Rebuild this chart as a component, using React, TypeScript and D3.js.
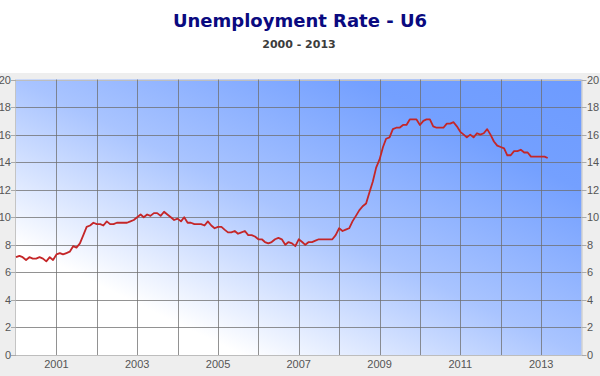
import React from "react";
import * as d3 from "d3";

const title = "Unemployment Rate - U6";
const subtitle = "2000 - 2013";

const startYear = 2000;
const u6_2000 = [7.1, 7.2, 7.1, 6.9, 7.1, 7.0, 7.0, 7.1, 7.0, 6.8, 7.1, 6.9];
const u6_2001 = [7.3, 7.4, 7.3, 7.4, 7.5, 7.9, 7.8, 8.1, 8.7, 9.3, 9.4, 9.6];
const u6_2002 = [9.5, 9.5, 9.4, 9.7, 9.5, 9.5, 9.6, 9.6, 9.6, 9.6, 9.7, 9.8];
const u6_2003 = [10.0, 10.2, 10.0, 10.2, 10.1, 10.3, 10.3, 10.1, 10.4, 10.2, 10.0, 9.8];
const u6_2004 = [9.9, 9.7, 10.0, 9.6, 9.6, 9.5, 9.5, 9.5, 9.4, 9.7, 9.4, 9.2];
const u6_2005 = [9.3, 9.3, 9.1, 8.9, 8.9, 9.0, 8.8, 8.9, 9.0, 8.7, 8.7, 8.6];
const u6_2006 = [8.4, 8.4, 8.2, 8.1, 8.2, 8.4, 8.5, 8.4, 8.0, 8.2, 8.1, 7.9];
const u6_2007 = [8.4, 8.2, 8.0, 8.2, 8.2, 8.3, 8.4, 8.4, 8.4, 8.4, 8.4, 8.7];
const u6_2008 = [9.2, 9.0, 9.1, 9.2, 9.7, 10.1, 10.5, 10.8, 11.0, 11.8, 12.6, 13.6];
const u6_2009 = [14.2, 15.1, 15.7, 15.8, 16.4, 16.5, 16.5, 16.7, 16.7, 17.1, 17.1, 17.1];
const u6_2010 = [16.7, 17.0, 17.1, 17.1, 16.6, 16.5, 16.5, 16.5, 16.8, 16.8, 16.9, 16.6];
const u6_2011 = [16.2, 16.0, 15.8, 16.0, 15.8, 16.1, 16.0, 16.1, 16.4, 16.0, 15.5, 15.2];
const u6_2012 = [15.1, 15.0, 14.5, 14.5, 14.8, 14.8, 14.9, 14.7, 14.7, 14.4, 14.4, 14.4];
const u6_2013 = [14.4, 14.4, 14.3];

const yearlySeries = [
  u6_2000, u6_2001, u6_2002, u6_2003, u6_2004, u6_2005, u6_2006,
  u6_2007, u6_2008, u6_2009, u6_2010, u6_2011, u6_2012, u6_2013,
];

const yTicks = [0, 2, 4, 6, 8, 10, 12, 14, 16, 18, 20];
const gridYears = [2001, 2002, 2003, 2004, 2005, 2006, 2007, 2008, 2009, 2010, 2011, 2012, 2013];
const labelYears = [2001, 2003, 2005, 2007, 2009, 2011, 2013];

type Pt = { date: Date; value: number };
const points: Pt[] = [];
yearlySeries.forEach((arr, yi) => {
  arr.forEach((v, m) => points.push({ date: new Date(startYear + yi, m, 1), value: v }));
});

export default function App() {
  const W = 600;
  const H = 376;
  const left = 16;
  const right = 581.5;
  const top = 79.5;
  const bottom = 355;

  const x = d3.scaleTime().domain([new Date(2000, 0, 1), new Date(2014, 0, 1)]).range([left, right]);
  const y = d3.scaleLinear().domain([0, 20]).range([bottom, top]);

  const line = d3
    .line<Pt>()
    .x((d) => x(d.date))
    .y((d) => y(d.value));

  const axisFont = "'Liberation Sans', Arial, sans-serif";
  const gridColor = "rgba(110,110,110,0.75)";

  return (
    <svg
      width={W}
      height={H}
      style={{ position: "absolute", left: 0, top: 0, display: "block" }}
    >
      <defs>
        <linearGradient id="bg" x1="0" y1="1" x2="1" y2="0">
          <stop offset="0" stopColor="#ffffff" />
          <stop offset="0.2" stopColor="#ffffff" />
          <stop offset="0.5" stopColor="#a9c4ff" />
          <stop offset="0.8" stopColor="#74a0ff" />
          <stop offset="1" stopColor="#6d9bff" />
        </linearGradient>
      </defs>
      <rect x={0} y={0} width={W} height={H} fill="#ffffff" />
      <rect x={0} y={73} width={W} height={H - 73} fill="#eeeeee" />

      <text
        x={300}
        y={27}
        textAnchor="middle"
        fontFamily="'DejaVu Sans', Verdana, sans-serif"
        fontWeight="bold"
        fontSize={18}
        fill="#0a0a80"
      >
        {title}
      </text>
      <text
        x={299}
        y={47.5}
        textAnchor="middle"
        fontFamily="'DejaVu Sans', Verdana, sans-serif"
        fontWeight="bold"
        fontSize={11}
        fill="#3c3c3c"
      >
        {subtitle}
      </text>

      <rect x={left} y={top} width={right - left} height={bottom - top} fill="url(#bg)" />

      {yTicks.map((t) => (
        <line
          key={"h" + t}
          x1={left}
          x2={right}
          y1={Math.round(y(t)) + 0.5}
          y2={Math.round(y(t)) + 0.5}
          stroke={t === 0 || t === 20 ? "#bdbdbd" : gridColor}
          strokeWidth={1}
        />
      ))}
      {gridYears.map((yr) => {
        const xx = Math.round(x(new Date(yr, 0, 1))) + 0.5;
        return (
          <line key={"v" + yr} x1={xx} x2={xx} y1={top} y2={bottom} stroke={gridColor} strokeWidth={1} />
        );
      })}
      <line x1={left - 0.5} x2={left - 0.5} y1={top} y2={bottom} stroke="#c4c4c4" />
      <line x1={right + 0.5} x2={right + 0.5} y1={top} y2={bottom} stroke="#c4c4c4" />

      {yTicks.map((t) => (
        <g key={"yt" + t}>
          <line x1={left - 5} x2={left} y1={Math.round(y(t)) + 0.5} y2={Math.round(y(t)) + 0.5} stroke="#aaaaaa" />
          <line x1={right} x2={right + 5} y1={Math.round(y(t)) + 0.5} y2={Math.round(y(t)) + 0.5} stroke="#aaaaaa" />
          <text
            x={left - 5}
            y={y(t) + 4}
            textAnchor="end"
            fontFamily={axisFont}
            fontSize={11}
            fill="#555555"
          >
            {t}
          </text>
          <text
            x={right + 5.5}
            y={y(t) + 4}
            textAnchor="start"
            fontFamily={axisFont}
            fontSize={11}
            fill="#555555"
          >
            {t}
          </text>
        </g>
      ))}

      {labelYears.map((yr) => (
        <text
          key={"xl" + yr}
          x={x(new Date(yr, 0, 1))}
          y={368}
          textAnchor="middle"
          fontFamily={axisFont}
          fontSize={11}
          fill="#555555"
        >
          {yr}
        </text>
      ))}

      <path d={line(points) || ""} fill="none" stroke="#c42628" strokeWidth={1.8} strokeLinejoin="round" />
    </svg>
  );
}
